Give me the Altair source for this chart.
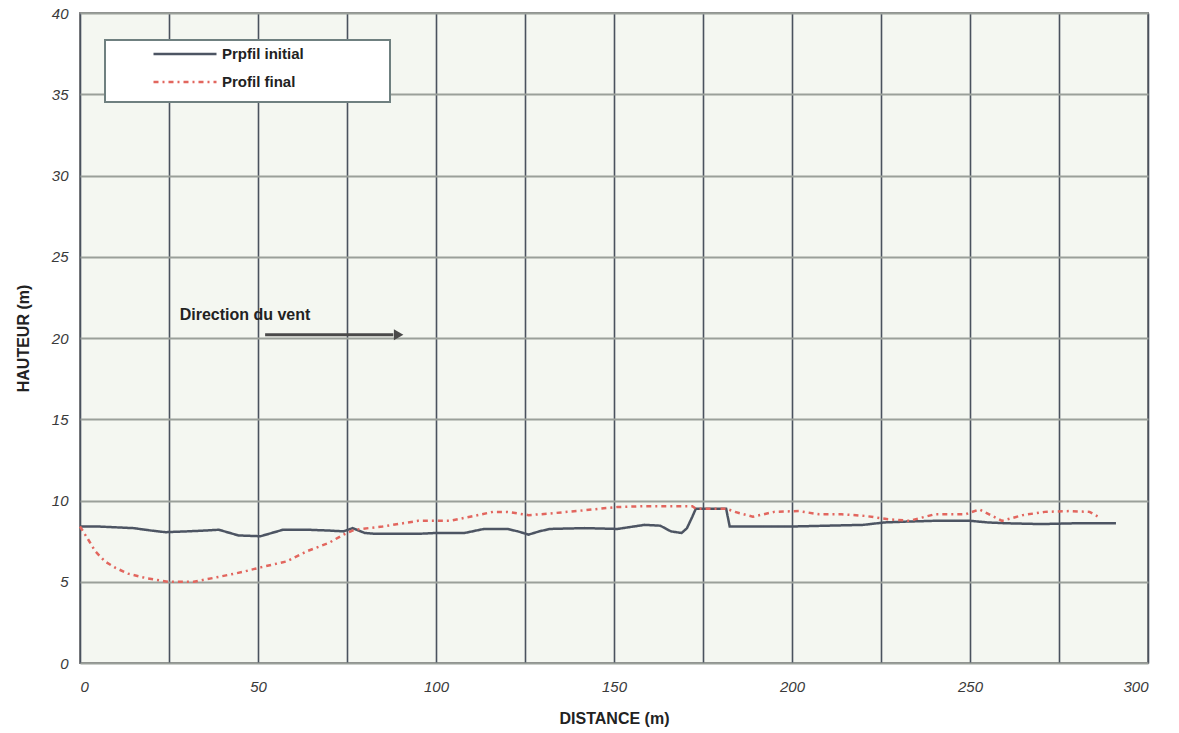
import altair as alt
import pandas as pd

# Profil initial (solid)
init_x = [0, 5, 10, 15, 20, 24, 30, 35, 39, 44.5, 50.7, 57, 64, 70, 74, 76.6, 80, 83, 90, 95,
          100, 104, 108, 113.5, 120, 123, 126, 129, 132, 141.7, 151, 158.6, 163, 166, 169,
          170.5, 172, 173, 181.5, 182.5, 190, 200, 210, 220, 226, 232, 240, 250, 255, 260,
          270, 280, 291]
init_y = [8.4, 8.4, 8.35, 8.3, 8.15, 8.05, 8.1, 8.15, 8.2, 7.85, 7.8, 8.2, 8.2, 8.15, 8.1, 8.3,
          8.0, 7.95, 7.95, 7.95, 8.0, 8.0, 8.0, 8.25, 8.25, 8.1, 7.9, 8.1, 8.25, 8.3, 8.25, 8.5,
          8.45, 8.1, 8.0, 8.3, 9.0, 9.5, 9.5, 8.4, 8.4, 8.4, 8.45, 8.5, 8.65, 8.7, 8.75, 8.75,
          8.65, 8.6, 8.55, 8.6, 8.6]

# Profil final (dotted)
fin_x = [0, 2.3, 4.2, 7, 10, 13.5, 19, 24.8, 32, 39, 45.6, 51, 58, 64, 70, 74, 77, 83, 85, 95,
         104, 110.7, 116, 120, 126, 132, 141.7, 151, 158.6, 165, 172, 173, 181.5, 184, 189, 195,
         202, 207.6, 214, 220.6, 227, 233, 240, 248.7, 252.6, 259, 264.8, 271, 278, 283.6, 286.8]
fin_y = [8.4, 7.6, 6.9, 6.25, 5.85, 5.5, 5.2, 5.0, 5.0, 5.3, 5.6, 5.9, 6.25, 6.9, 7.4, 7.9, 8.2,
         8.35, 8.4, 8.75, 8.75, 9.05, 9.3, 9.3, 9.1, 9.2, 9.4, 9.6, 9.65, 9.65, 9.65, 9.5, 9.5,
         9.3, 9.0, 9.3, 9.35, 9.15, 9.15, 9.05, 8.85, 8.75, 9.15, 9.15, 9.45, 8.75, 9.1, 9.3,
         9.35, 9.3, 8.9]

series_names = ["Prpfil initial", "Profil final"]
series_colors = ["#4d5563", "#e2665e"]

x_ticks = list(range(0, 301, 25))
y_ticks = list(range(0, 41, 5))

# Annotation: wind direction
wind_label = "Direction du vent"
wind_text_x, wind_text_y = 28, 21.4
arrow_x0, arrow_x1, arrow_y = 52, 88, 20.2

rows = []
for xv, yv in zip(init_x, init_y):
    rows.append({"x": xv, "y": yv, "serie": series_names[0]})
for xv, yv in zip(fin_x, fin_y):
    rows.append({"x": xv, "y": yv, "serie": series_names[1]})
df = pd.DataFrame(rows)
df["order"] = range(len(df))

FONT = "Liberation Sans"

X = alt.X("x:Q", scale=alt.Scale(domain=[0, 300], nice=False, zero=True),
          axis=alt.Axis(values=x_ticks, grid=True, gridColor="#4a525e", gridWidth=1.6,
                        labelExpr="datum.value % 50 == 0 ? datum.label : ''",
                        ticks=False, domain=False, labelFont=FONT, labelFontSize=15,
                        labelFontStyle="italic", labelColor="#3a3a3a", labelPadding=16,
                        title="DISTANCE  (m)", titleFont=FONT, titleFontSize=16,
                        titleFontWeight="bold", titleColor="#222", titlePadding=16))
Y = alt.Y("y:Q", scale=alt.Scale(domain=[0, 40], nice=False),
          axis=alt.Axis(values=y_ticks, grid=True, gridColor="#9aa09a", gridWidth=2,
                        ticks=False, domain=False, labelFont=FONT, labelFontSize=15,
                        labelFontStyle="italic", labelColor="#3a3a3a", labelPadding=12,
                        title="HAUTEUR  (m)", titleFont=FONT, titleFontSize=16,
                        titleFontWeight="bold", titleColor="#222", titlePadding=20))

lines = alt.Chart(df).mark_line(strokeWidth=2.5).encode(
    x=X, y=Y, order="order:Q",
    color=alt.Color("serie:N", scale=alt.Scale(domain=series_names, range=series_colors),
                    legend=alt.Legend(title=None, orient="none", legendX=93, legendY=29,
                                      symbolType="M-3,0H3", symbolSize=441,
                                      symbolStrokeWidth=2.5, labelFont=FONT,
                                      labelFontSize=15, labelFontWeight="bold",
                                      labelColor="#222", labelOffset=25, rowPadding=8)),
    strokeDash=alt.StrokeDash("serie:N", scale=alt.Scale(domain=series_names,
                                                         range=[[1, 0], [5, 4, 2, 4]]),
                              legend=None),
)

legend_box = alt.Chart(pd.DataFrame({"x": [0]})).mark_rect(
    fill="white", stroke="#6f8080", strokeWidth=2).encode(
    x=alt.value(25), x2=alt.value(310), y=alt.value(27), y2=alt.value(89))

ann = pd.DataFrame({"x": [wind_text_x], "y": [wind_text_y], "t": [wind_label]})
text = alt.Chart(ann).mark_text(align="left", baseline="middle", font=FONT, fontSize=16,
                                fontWeight="bold", color="#222").encode(x=X, y=Y, text="t:N")

arr = pd.DataFrame({"x": [arrow_x0], "x2": [arrow_x1], "y": [arrow_y]})
arrow = alt.Chart(arr).mark_rule(strokeWidth=3, color="#4a4a4a").encode(x=X, x2="x2:Q", y=Y)
head = alt.Chart(pd.DataFrame({"x": [arrow_x1 + 1.5], "y": [arrow_y]})).mark_point(
    shape="triangle-right", filled=True, size=120, color="#4a4a4a", opacity=1).encode(x=X, y=Y)

chart = alt.layer(lines, legend_box, text, arrow, head).properties(
    width=1068, height=650,
    autosize=alt.AutoSizeParams(type="none"),
    padding={"left": 80, "top": 13, "right": 31, "bottom": 70},
    background="white",
).configure_view(fill="#f4f7f1", stroke="#888", strokeWidth=2)

chart.save("out.html", embed_options={"renderer": "svg", "actions": False})
